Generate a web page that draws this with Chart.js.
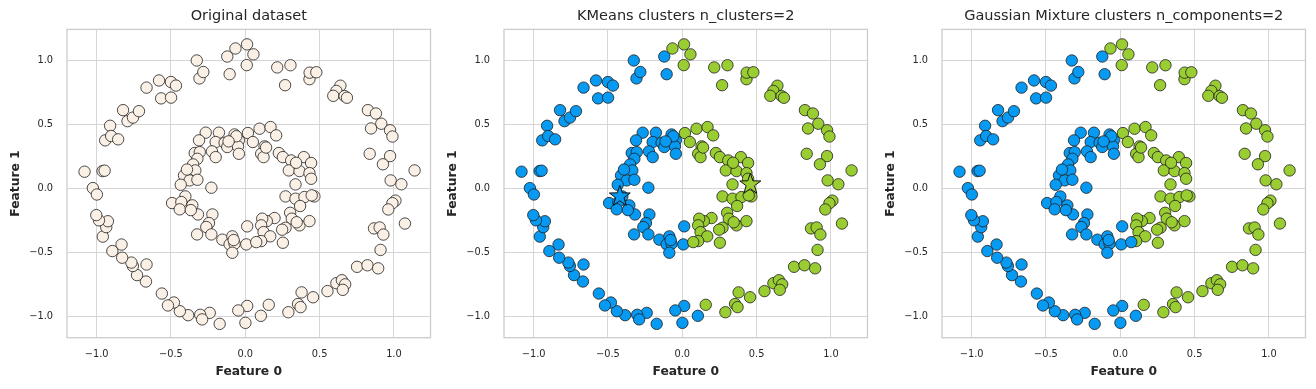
<!DOCTYPE html>
<html>
<head>
<meta charset="utf-8">
<script src="https://cdn.jsdelivr.net/npm/chart.js@4.4.1/dist/chart.umd.min.js"></script>
<style>
  body { margin: 0; background: #fff; }
  #wrap { position: relative; width: 1316px; height: 389px; }
  #wrap canvas { position: absolute; top: 0; }
</style>
</head>
<body>
<div id="wrap">
  <canvas id="c0" width="437" height="389" style="left:0px"></canvas>
  <canvas id="c1" width="437" height="389" style="left:437px"></canvas>
  <canvas id="c2" width="437" height="389" style="left:875px"></canvas>
</div>
<script>
// points, split by the KMeans colour
const outerBlue = [
  [-1.081, 0.133], [-1.025, 0.005], [-0.998, -0.045], [-0.960, 0.138], [-0.946, 0.141],
  [-0.942, 0.378], [-0.909, 0.492], [-0.902, 0.412], [-0.855, 0.386], [-0.822, 0.614],
  [-0.792, 0.528], [-0.755, 0.556], [-0.715, 0.606], [-0.664, 0.790], [-0.580, 0.846],
  [-0.566, 0.706], [-0.500, 0.834], [-0.499, 0.712], [-0.466, 0.806], [-0.326, 1.002],
  [-0.308, 0.862], [-0.282, 0.912], [-0.121, 1.033], [-0.105, 0.895],
  [0.105, -0.993], [0.013, -0.916], [0.001, -1.048], [-0.047, -0.951], [-0.172, -1.056],
  [-0.239, -0.970], [-0.303, -0.985], [-0.290, -1.021], [-0.384, -0.988], [-0.440, -0.957],
  [-0.480, -0.889], [-0.520, -0.912], [-0.561, -0.819], [-0.668, -0.725], [-0.664, -0.592],
  [-0.728, -0.675], [-0.756, -0.604], [-0.766, -0.577], [-0.832, -0.436], [-0.828, -0.539],
  [-0.894, -0.487], [-0.958, -0.374], [-0.935, -0.300], [-0.924, -0.254], [-0.984, -0.247],
  [-1.002, -0.206]
];
const outerGreen = [
  [-0.066, 1.096], [0.012, 1.128], [0.010, 0.966], [0.055, 1.050], [0.215, 0.948],
  [0.268, 0.809], [0.304, 0.965], [0.432, 0.856], [0.433, 0.907], [0.478, 0.910],
  [0.640, 0.805], [0.613, 0.764], [0.592, 0.726], [0.668, 0.724], [0.684, 0.711],
  [0.825, 0.614], [0.879, 0.588], [0.915, 0.508], [0.846, 0.471], [0.974, 0.457],
  [0.990, 0.408], [0.837, 0.273], [0.974, 0.255], [0.926, 0.191], [1.139, 0.143],
  [0.978, 0.065], [1.050, 0.035], [1.010, -0.093], [0.990, -0.113], [0.962, -0.162],
  [1.074, -0.272], [0.866, -0.310], [0.904, -0.303], [0.929, -0.358], [0.910, -0.478],
  [0.752, -0.610], [0.822, -0.598], [0.894, -0.622], [0.613, -0.738], [0.650, -0.715],
  [0.672, -0.747], [0.656, -0.790], [0.553, -0.800], [0.456, -0.848], [0.379, -0.810],
  [0.355, -0.901], [0.372, -0.925], [0.290, -0.965], [0.158, -0.907]
];
const innerBlue = [
  [-0.266, 0.438], [-0.177, 0.438], [-0.072, 0.424], [-0.199, 0.365], [-0.139, 0.359],
  [-0.121, 0.326], [-0.043, 0.378], [-0.049, 0.331], [-0.043, 0.273], [-0.311, 0.378],
  [-0.224, 0.292], [-0.199, 0.247], [-0.340, 0.279], [-0.306, 0.286], [-0.322, 0.234],
  [-0.351, 0.190], [-0.336, 0.143], [-0.412, 0.104], [-0.374, 0.065], [-0.322, 0.070],
  [-0.434, 0.031], [-0.228, 0.008], [-0.403, -0.060], [-0.492, -0.112], [-0.430, -0.104],
  [-0.441, -0.161], [-0.356, -0.130], [-0.318, -0.201], [-0.221, -0.201], [-0.244, -0.268],
  [-0.262, -0.299], [-0.228, -0.357], [-0.324, -0.357], [-0.154, -0.398], [-0.087, -0.372],
  [-0.105, -0.435], [-0.072, -0.430], [-0.087, -0.500], [0.013, -0.294], [0.007, -0.435],
  [-0.060, 0.410], [-0.112, 0.370], [-0.366, -0.167], [-0.392, 0.150], [-0.078, -0.401]
];
const innerGreen = [
  [0.018, 0.435], [0.096, 0.469], [0.170, 0.482], [0.208, 0.417], [0.051, 0.365],
  [0.130, 0.331], [0.107, 0.273], [0.123, 0.247], [0.226, 0.279], [0.253, 0.247],
  [0.309, 0.221], [0.394, 0.247], [0.443, 0.201], [0.293, 0.143], [0.365, 0.138],
  [0.432, 0.122], [0.443, 0.078], [0.338, 0.034], [0.271, -0.060], [0.338, -0.078],
  [0.398, -0.065], [0.465, -0.060], [0.447, -0.052], [0.369, -0.135], [0.302, -0.188],
  [0.313, -0.234], [0.365, -0.286], [0.432, -0.253], [0.271, -0.305], [0.248, -0.320],
  [0.197, -0.229], [0.145, -0.253], [0.114, -0.234], [0.107, -0.286], [0.123, -0.339],
  [0.168, -0.372], [0.107, -0.409], [0.253, -0.422], [0.140, 0.322], [0.342, 0.203],
  [0.346, -0.262]
];
// green for KMeans, blue for the Gaussian mixture
const swapPoints = [[0.074, -0.417]];
const kmCenters = [[-0.420, -0.052], [0.458, 0.042]];
const centerColors = ['#069AF3', '#9ACD32'];

const xTicks = [-1.0, -0.5, 0.0, 0.5, 1.0];
const yTicks = [-1.0, -0.5, 0.0, 0.5, 1.0];
const titles = ['Original dataset', 'KMeans clusters n_clusters=2', 'Gaussian Mixture clusters n_components=2'];

const FONT = 'DejaVu Sans';
const BLUE = '#069AF3';
const GREEN = '#9ACD32';
const PLAIN = '#FBF0E6';

function toXY(arr) {
    return arr.map(function (p) { return {x: p[0], y: p[1]}; });
}

function pointSet(points, color, order) {
    return {
        data: toXY(points),
        order: order,
        backgroundColor: color,
        borderColor: '#1e1e1e',
        borderWidth: 0.8,
        pointRadius: 5.7,
        pointHoverRadius: 5.7
    };
}

function fmt(v) {
    return v.toFixed(1).replace('-', '\u2212');
}

// frame round the plot area, title centred over it, and the KMeans centres as stars
const framePlugin = {
    id: 'frame',
    afterDatasetsDraw: function (chart) {
        var a = chart.chartArea, ctx = chart.ctx;
        var opts = chart.options.plugins.frame;
        ctx.save();
        if (opts.stars) {
            opts.stars.forEach(function (c, k) {
                var cx = chart.scales.x.getPixelForValue(c[0]);
                var cy = chart.scales.y.getPixelForValue(c[1]);
                var R = 11, r = 4.4;
                ctx.beginPath();
                for (var i = 0; i < 10; i++) {
                    var rad = i % 2 === 0 ? R : r;
                    var ang = -Math.PI / 2 + i * Math.PI / 5;
                    var px = cx + rad * Math.cos(ang), py = cy + 1 + rad * Math.sin(ang);
                    if (i === 0) ctx.moveTo(px, py); else ctx.lineTo(px, py);
                }
                ctx.closePath();
                ctx.fillStyle = centerColors[k];
                ctx.fill();
                ctx.lineWidth = 1;
                ctx.strokeStyle = '#111';
                ctx.stroke();
            });
        }
        ctx.strokeStyle = '#cccccc';
        ctx.lineWidth = 1.3;
        ctx.strokeRect(a.left, a.top, a.right - a.left, a.bottom - a.top);
        ctx.fillStyle = '#262626';
        ctx.font = '14.5px "' + FONT + '"';
        ctx.textAlign = 'center';
        ctx.textBaseline = 'middle';
        ctx.fillText(opts.text, (a.left + a.right) / 2, 16);
        ctx.restore();
    }
};

function makeChart(id, datasets, title, stars) {
    return new Chart(document.getElementById(id), {
        type: 'scatter',
        data: {datasets: datasets},
        options: {
            responsive: false,
            animation: false,
            events: [],
            layout: {padding: {left: 0, right: 5, top: 29.4, bottom: 0}},
            plugins: {
                legend: {display: false},
                tooltip: {enabled: false},
                title: {display: false},
                frame: {text: title, stars: stars}
            },
            scales: {
                x: {
                    type: 'linear',
                    min: -1.199,
                    max: 1.246,
                    afterBuildTicks: function (s) { s.ticks = xTicks.map(function (v) { return {value: v}; }); },
                    afterFit: function (s) { s.height = 51.3; },
                    grid: {color: '#d6d6d6', lineWidth: 1, drawTicks: false},
                    border: {display: false},
                    ticks: {
                        color: '#262626', font: {family: FONT, size: 9.8}, padding: 11,
                        maxRotation: 0, autoSkip: false, callback: fmt
                    },
                    title: {
                        display: true, text: 'Feature 0', color: '#262626',
                        font: {family: FONT, size: 12.3, weight: 'bold'},
                        padding: {top: 0, bottom: 10}
                    }
                },
                y: {
                    type: 'linear',
                    min: -1.164,
                    max: 1.245,
                    afterBuildTicks: function (s) { s.ticks = yTicks.map(function (v) { return {value: v}; }); },
                    afterFit: function (s) { s.width = 67; },
                    grid: {color: '#d6d6d6', lineWidth: 1, drawTicks: false},
                    border: {display: false},
                    ticks: {
                        color: '#262626', font: {family: FONT, size: 9.8}, padding: 14,
                        autoSkip: false, callback: fmt
                    },
                    title: {
                        display: true, text: 'Feature 1', color: '#262626',
                        font: {family: FONT, size: 12.3, weight: 'bold'},
                        padding: {top: 8, bottom: 0}
                    }
                }
            }
        },
        plugins: [framePlugin]
    });
}

const allPoints = outerBlue.concat(innerBlue, outerGreen, innerGreen, swapPoints);

makeChart('c0', [pointSet(allPoints, PLAIN, 1)], titles[0], null);

makeChart('c1', [
    pointSet(outerBlue.concat(innerBlue), BLUE, 2),
    pointSet(outerGreen.concat(innerGreen, swapPoints), GREEN, 1)
], titles[1], kmCenters);

makeChart('c2', [
    pointSet(outerBlue.concat(innerBlue, swapPoints), BLUE, 1),
    pointSet(outerGreen.concat(innerGreen), GREEN, 2)
], titles[2], null);
</script>
</body>
</html>
